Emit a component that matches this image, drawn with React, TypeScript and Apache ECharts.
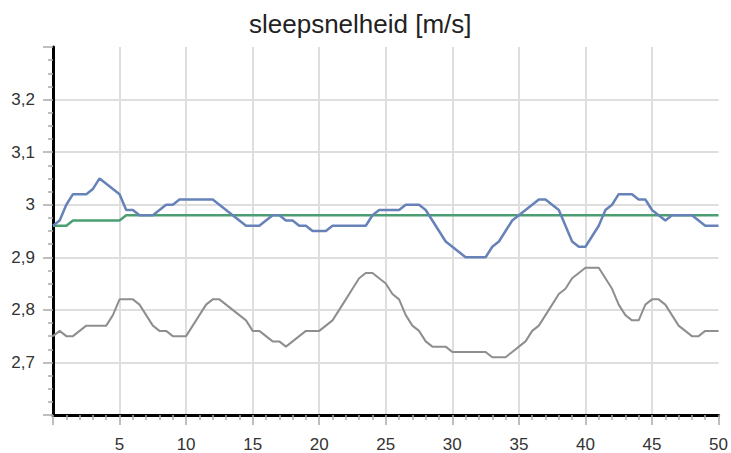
import React, { useEffect, useRef } from "react";
import * as echarts from "echarts";

const title = "sleepsnelheid [m/s]";

// x positions (seconds), sampled every 0.5
const xValues: number[] = Array.from({ length: 101 }, (_, i) => i / 2);

const blueValues = [
  2.96, 2.97, 3.0, 3.02, 3.02, 3.02, 3.03, 3.05, 3.04, 3.03,
  3.02, 2.99, 2.99, 2.98, 2.98, 2.98, 2.99, 3.0, 3.0, 3.01,
  3.01, 3.01, 3.01, 3.01, 3.01, 3.0, 2.99, 2.98, 2.97, 2.96,
  2.96, 2.96, 2.97, 2.98, 2.98, 2.97, 2.97, 2.96, 2.96, 2.95,
  2.95, 2.95, 2.96, 2.96, 2.96, 2.96, 2.96, 2.96, 2.98, 2.99,
  2.99, 2.99, 2.99, 3.0, 3.0, 3.0, 2.99, 2.97, 2.95, 2.93,
  2.92, 2.91, 2.9, 2.9, 2.9, 2.9, 2.92, 2.93, 2.95, 2.97,
  2.98, 2.99, 3.0, 3.01, 3.01, 3.0, 2.99, 2.96, 2.93, 2.92,
  2.92, 2.94, 2.96, 2.99, 3.0, 3.02, 3.02, 3.02, 3.01, 3.01,
  2.99, 2.98, 2.97, 2.98, 2.98, 2.98, 2.98, 2.97, 2.96, 2.96,
  2.96,
];

const greenValues = [
  2.96, 2.96, 2.96, 2.97, 2.97, 2.97, 2.97, 2.97, 2.97, 2.97,
  2.97, 2.98, 2.98, 2.98, 2.98, 2.98, 2.98, 2.98, 2.98, 2.98,
  2.98, 2.98, 2.98, 2.98, 2.98, 2.98, 2.98, 2.98, 2.98, 2.98,
  2.98, 2.98, 2.98, 2.98, 2.98, 2.98, 2.98, 2.98, 2.98, 2.98,
  2.98, 2.98, 2.98, 2.98, 2.98, 2.98, 2.98, 2.98, 2.98, 2.98,
  2.98, 2.98, 2.98, 2.98, 2.98, 2.98, 2.98, 2.98, 2.98, 2.98,
  2.98, 2.98, 2.98, 2.98, 2.98, 2.98, 2.98, 2.98, 2.98, 2.98,
  2.98, 2.98, 2.98, 2.98, 2.98, 2.98, 2.98, 2.98, 2.98, 2.98,
  2.98, 2.98, 2.98, 2.98, 2.98, 2.98, 2.98, 2.98, 2.98, 2.98,
  2.98, 2.98, 2.98, 2.98, 2.98, 2.98, 2.98, 2.98, 2.98, 2.98,
  2.98,
];

const grayValues = [
  2.75, 2.76, 2.75, 2.75, 2.76, 2.77, 2.77, 2.77, 2.77, 2.79,
  2.82, 2.82, 2.82, 2.81, 2.79, 2.77, 2.76, 2.76, 2.75, 2.75,
  2.75, 2.77, 2.79, 2.81, 2.82, 2.82, 2.81, 2.8, 2.79, 2.78,
  2.76, 2.76, 2.75, 2.74, 2.74, 2.73, 2.74, 2.75, 2.76, 2.76,
  2.76, 2.77, 2.78, 2.8, 2.82, 2.84, 2.86, 2.87, 2.87, 2.86,
  2.85, 2.83, 2.82, 2.79, 2.77, 2.76, 2.74, 2.73, 2.73, 2.73,
  2.72, 2.72, 2.72, 2.72, 2.72, 2.72, 2.71, 2.71, 2.71, 2.72,
  2.73, 2.74, 2.76, 2.77, 2.79, 2.81, 2.83, 2.84, 2.86, 2.87,
  2.88, 2.88, 2.88, 2.86, 2.84, 2.81, 2.79, 2.78, 2.78, 2.81,
  2.82, 2.82, 2.81, 2.79, 2.77, 2.76, 2.75, 2.75, 2.76, 2.76,
  2.76,
];

const pair = (vals: number[]) => vals.map((v, i) => [xValues[i], v]);

export default function App() {
  const ref = useRef<HTMLDivElement>(null);
  useEffect(() => {
    if (!ref.current) return;
    const chart = echarts.init(ref.current, null, { renderer: "svg" });
    const gridColor = "#dedede";
    const font = "Liberation Sans, Arial, sans-serif";
    chart.setOption({
      animation: false,
      backgroundColor: "#ffffff",
      title: {
        text: title,
        left: 244,
        top: 6,
        textStyle: {
          fontFamily: font,
          fontSize: 26,
          fontWeight: "normal",
          color: "#222222",
        },
      },
      grid: { left: 53, right: 9, top: 47, bottom: 36, containLabel: false },
      xAxis: {
        type: "value",
        min: 0,
        max: 50,
        interval: 5,
        axisLine: { show: true, onZero: false, lineStyle: { color: "#000", width: 3 } },
        axisTick: { show: true, length: 10, lineStyle: { color: "#aaa", width: 1.5 } },
        minorTick: { show: true, splitNumber: 5, length: 5, lineStyle: { color: "#aaa", width: 1.5 } },
        axisLabel: {
          showMinLabel: false,
          color: "#333",
          fontSize: 17,
          fontFamily: font,
          margin: 21,
        },
        splitLine: {
          show: true,
          lineStyle: {
            color: ["transparent", gridColor, gridColor, gridColor, gridColor, gridColor, gridColor, gridColor, gridColor, gridColor, "transparent"],
            width: 2,
          },
        },
      },
      yAxis: {
        type: "value",
        min: 2.6,
        max: 3.3,
        interval: 0.1,
        axisLine: { show: true, lineStyle: { color: "#000", width: 3 } },
        axisTick: { show: true, length: 10, lineStyle: { color: "#aaa", width: 1.5 } },
        minorTick: { show: true, splitNumber: 4, length: 5, lineStyle: { color: "#aaa", width: 1.5 } },
        axisLabel: {
          color: "#333",
          fontSize: 17,
          fontFamily: font,
          margin: 18,
          formatter: (v: number) => {
            const r = Math.round(v * 10) / 10;
            if (r <= 2.6 || r >= 3.3) return "";
            return String(r).replace(".", ",");
          },
        },
        splitLine: {
          show: true,
          lineStyle: {
            color: ["transparent", gridColor, gridColor, gridColor, gridColor, gridColor, gridColor, "transparent"],
            width: 2,
          },
        },
      },
      series: [
        {
          type: "line",
          data: pair(grayValues),
          showSymbol: false,
          lineStyle: { color: "#8e8e8e", width: 2 },
          z: 3,
        },
        {
          type: "line",
          data: pair(greenValues),
          showSymbol: false,
          lineStyle: { color: "#4a9e72", width: 2.5 },
          z: 3,
        },
        {
          type: "line",
          data: pair(blueValues),
          showSymbol: false,
          lineStyle: { color: "#6682b8", width: 2.5 },
          z: 4,
        },
      ],
    });
    return () => chart.dispose();
  }, []);
  return (
    <div
      ref={ref}
      style={{ position: "fixed", left: 0, top: 0, width: 731, height: 453 }}
    />
  );
}
